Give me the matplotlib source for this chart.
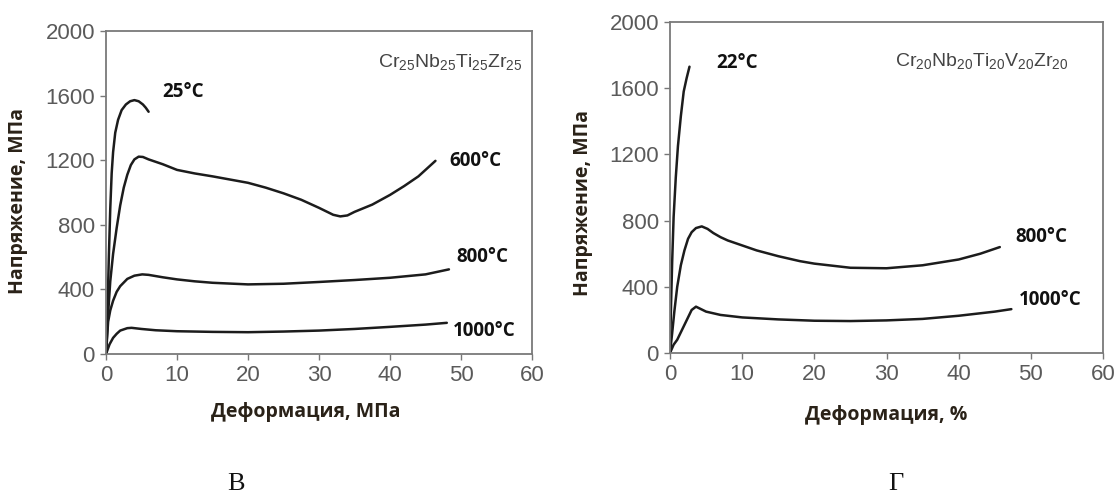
import matplotlib
matplotlib.use("Agg")
import matplotlib.pyplot as plt

plt.rcParams['font.family'] = ['Liberation Sans', 'DejaVu Sans']
plt.rcParams['mathtext.default'] = 'regular'

# Cr25Nb25Ti25Zr25 -- stress-strain curves
cr25_25C_x = [0, 0.2, 0.4, 0.6, 0.8, 1.0, 1.3, 1.7, 2.2, 2.8, 3.4, 4.0, 4.6, 5.2, 5.6, 6.0]
cr25_25C_y = [0, 250, 600, 900, 1120, 1250, 1370, 1450, 1510, 1545, 1565, 1572, 1565, 1545, 1525, 1500]

cr25_600C_x = [0, 0.3, 0.6, 1.0, 1.5, 2.0, 2.5, 3.0, 3.5, 4.0, 4.6, 5.2, 6, 8, 10, 12.5, 15, 17.5, 20,
               22.5, 25, 27.5, 30, 32, 33, 34, 35, 37.5, 40, 42, 44, 46.4]
cr25_600C_y = [0, 250, 450, 620, 780, 920, 1030, 1110, 1170, 1205, 1222, 1220, 1205, 1175, 1140, 1118, 1100,
               1080, 1060, 1030, 995, 955, 905, 862, 852, 858, 880, 925, 985, 1040, 1100, 1196]

cr25_800C_x = [0, 0.3, 0.6, 1.0, 1.5, 2.0, 3.0, 4.0, 5.1, 6, 8, 10, 12.5, 15, 20, 25, 30, 35, 40, 45, 48.3]
cr25_800C_y = [0, 200, 270, 330, 385, 420, 465, 485, 493, 490, 475, 462, 450, 441, 431, 435, 446, 458, 472, 493, 524]

cr25_1000C_x = [0, 0.5, 1.0, 1.5, 2.0, 3.0, 3.6, 5, 7, 10, 15, 20, 25, 30, 35, 40, 45, 48.0]
cr25_1000C_y = [0, 60, 100, 125, 145, 160, 162, 155, 147, 141, 137, 135, 139, 145, 155, 168, 182, 193]

# Cr20Nb20Ti20V20Zr20 -- stress-strain curves
cr20_22C_x = [0, 0.15, 0.3, 0.5, 0.8, 1.1, 1.5, 1.9, 2.3, 2.7]
cr20_22C_y = [0, 300, 550, 820, 1060, 1250, 1430, 1580, 1660, 1730]

cr20_800C_x = [0, 0.3, 0.6, 1.0, 1.5, 2.0, 2.5, 3.0, 3.6, 4.4, 5.2, 6, 7, 8, 10, 12, 15, 18, 20,
               25, 30, 35, 40, 43, 45.7]
cr20_800C_y = [0, 120, 250, 400, 530, 620, 690, 730, 755, 765, 750, 725, 700, 680, 650, 620, 585, 555, 540,
               515, 512, 530, 565, 600, 640]

cr20_1000C_x = [0, 0.5, 1.0, 2.0, 3.0, 3.6, 5, 7, 10, 15, 20, 25, 30, 35, 40, 45, 47.3]
cr20_1000C_y = [0, 50, 80, 170, 260, 280, 250, 230, 215, 203, 195, 193, 197, 206, 225, 250, 265]

x_ticks = [0, 10, 20, 30, 40, 50, 60]
y_ticks = [0, 400, 800, 1200, 1600, 2000]

y_label = "Напряжение, МПа"
x_label_left = "Деформация, МПа"
x_label_right = "Деформация, %"

line_kw = dict(color="#1c1c1c", lw=1.8, solid_capstyle="round")
lab_kw = dict(fontsize=13.5, fontweight="bold", family=["Open Sans", "DejaVu Sans"], color="#111111",
              va="center")
axis_font = dict(fontsize=14, fontweight="bold", family=["Open Sans", "DejaVu Sans"], color="#2a2218")
formula_kw = dict(fontsize=14, color="#444444", ha="right", va="center")

fig = plt.figure(figsize=(11.17, 4.94), dpi=100)
ax1 = fig.add_axes([106 / 1117, 1 - 354 / 494, 426 / 1117, 323 / 494])
ax2 = fig.add_axes([670 / 1117, 1 - 353 / 494, 433 / 1117, 331 / 494])

for ax in (ax1, ax2):
    ax.set_xlim(0, 60)
    ax.set_ylim(0, 2000)
    ax.set_xticks(x_ticks)
    ax.set_yticks(y_ticks)
    ax.tick_params(direction="out", length=4, width=1, color="#777777", labelcolor="#5a5a5a",
                   labelsize=16, pad=4)
    for s in ax.spines.values():
        s.set_color("#7a7a7a")
        s.set_linewidth(1.3)

ax1.plot(cr25_25C_x, cr25_25C_y, **line_kw)
ax1.plot(cr25_600C_x, cr25_600C_y, **line_kw)
ax1.plot(cr25_800C_x, cr25_800C_y, **line_kw)
ax1.plot(cr25_1000C_x, cr25_1000C_y, **line_kw)
ax1.text(7.9, 1625, "25°C", **lab_kw)
ax1.text(48.3, 1196, "600°C", **lab_kw)
ax1.text(49.4, 600, "800°C", **lab_kw)
ax1.text(48.8, 140, "1000°C", **lab_kw)
ax1.text(58.7, 1810, r"Cr$_{25}$Nb$_{25}$Ti$_{25}$Zr$_{25}$", **formula_kw)

ax2.plot(cr20_22C_x, cr20_22C_y, **line_kw)
ax2.plot(cr20_800C_x, cr20_800C_y, **line_kw)
ax2.plot(cr20_1000C_x, cr20_1000C_y, **line_kw)
ax2.text(6.4, 1750, "22°C", **lab_kw)
ax2.text(47.8, 700, "800°C", **lab_kw)
ax2.text(48.3, 320, "1000°C", **lab_kw)
ax2.text(55.2, 1763, r"Cr$_{20}$Nb$_{20}$Ti$_{20}$V$_{20}$Zr$_{20}$", **formula_kw)

fig.text(18 / 1117, 1 - 201 / 494, y_label, rotation=90, ha="center", va="center", **axis_font)
fig.text(583 / 1117, 1 - 203 / 494, y_label, rotation=90, ha="center", va="center", **axis_font)
fig.text(306 / 1117, 1 - 412 / 494, x_label_left, ha="center", va="center", **axis_font)
fig.text(886 / 1117, 1 - 415 / 494, x_label_right, ha="center", va="center", **axis_font)

fig.text(236 / 1117, 1 - 484 / 494, "В", ha="center", va="center", fontsize=19,
         family=["Liberation Serif", "DejaVu Serif"], color="#111111")
fig.text(896 / 1117, 1 - 484 / 494, "Г", ha="center", va="center", fontsize=19,
         family=["Liberation Serif", "DejaVu Serif"], color="#111111")

fig.savefig("out.png", dpi=100)
